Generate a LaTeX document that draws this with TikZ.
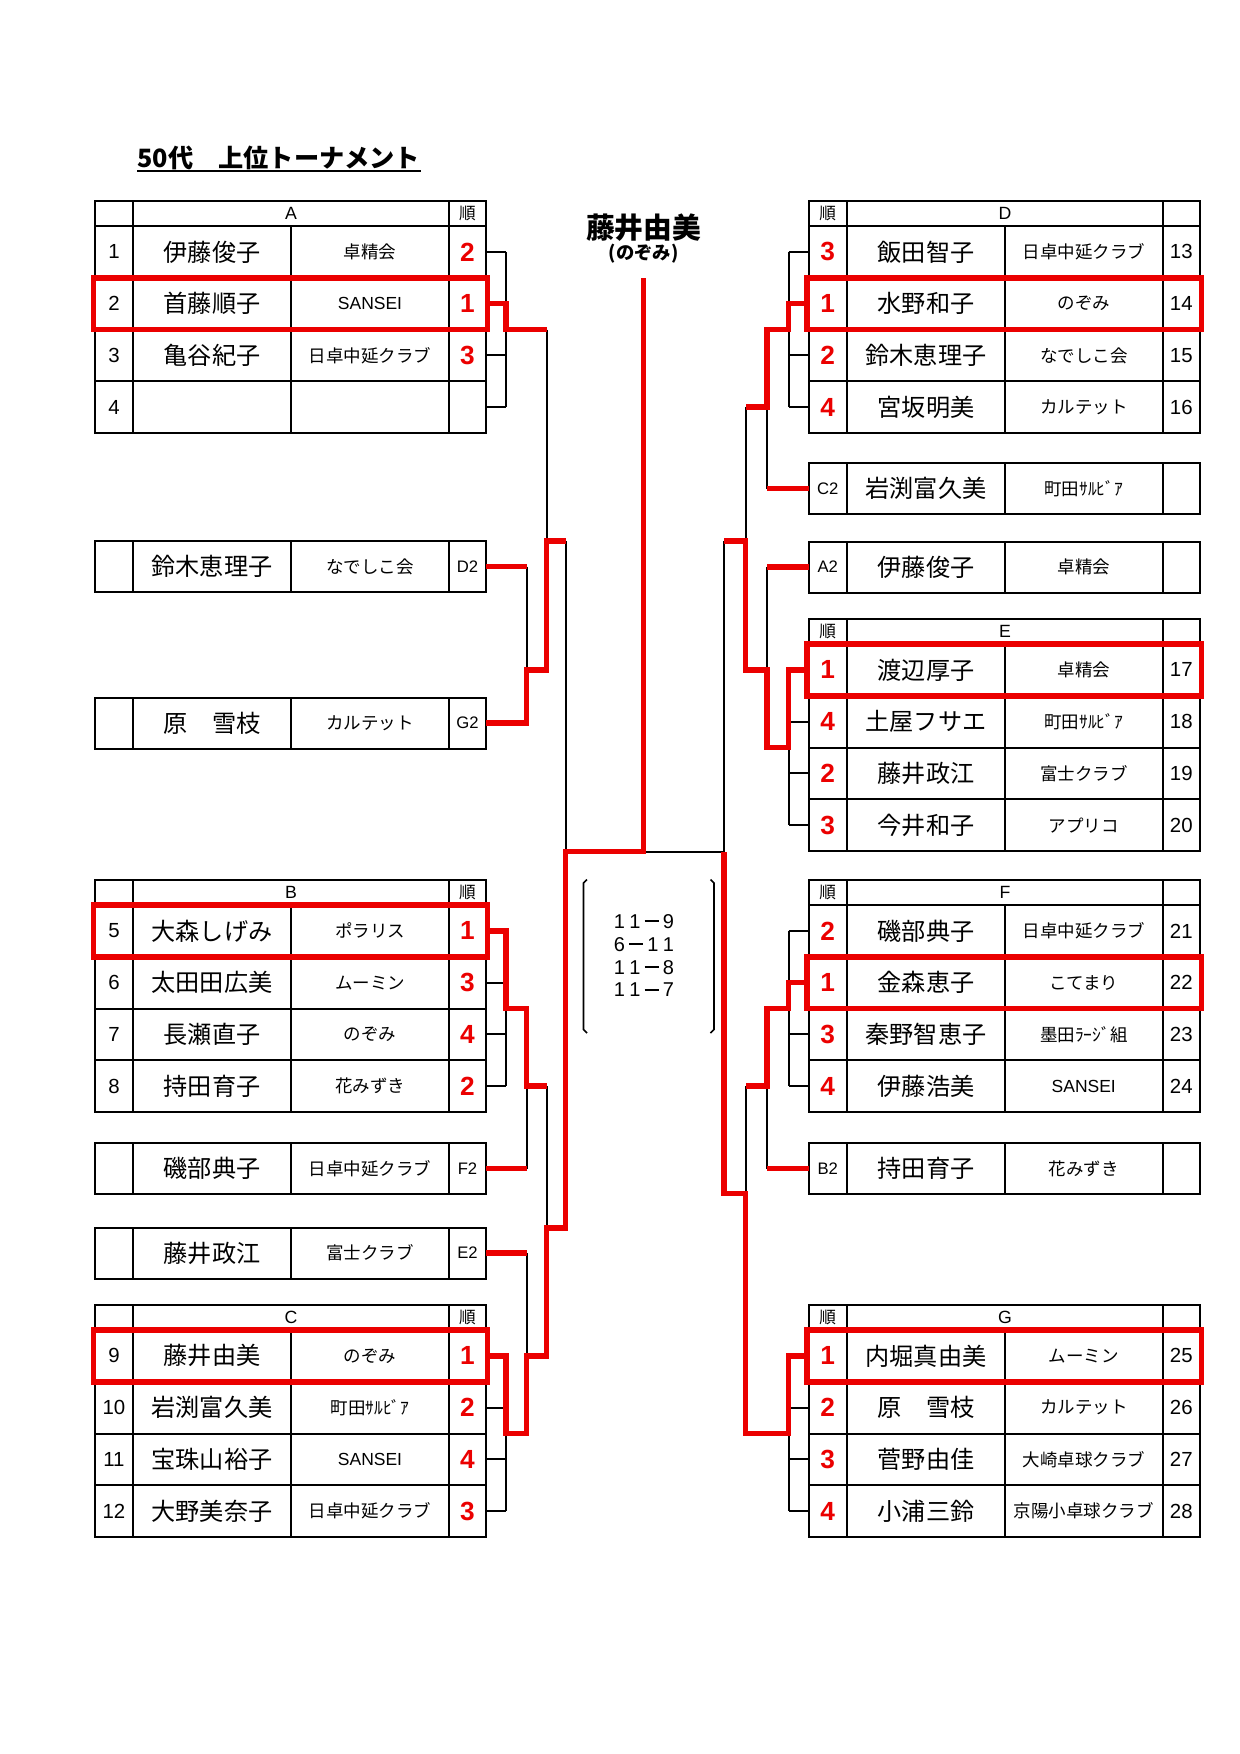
\documentclass[tikz,border=0pt]{standalone}
\usepackage{fontspec}
\setmainfont{Liberation Sans}
\newfontfamily\jp{Noto Sans CJK JP}
\definecolor{wr}{RGB}{235,0,0}
\newcommand\fsz[1]{\fontsize{#1}{#1}\selectfont}
\newcommand\lat[1]{{\rmfamily #1}}
\newcommand\scch[1]{\makebox[7.44pt][c]{#1}}
\newcommand\scdash{\makebox[8.6pt][c]{\rule[3pt]{6.9pt}{0.9pt}}}
\tikzset{
 tbl/.style={draw=black, line width=0.96pt},
 blk/.style={draw=black, line width=0.96pt},
 redp/.style={draw=wr, line width=2.64pt, line join=miter},
 redbox/.style={draw=wr, line width=2.64pt},
 txt/.style={inner sep=0pt, anchor=center},
 nmtxt/.style={txt, font=\jp\fsz{11.6pt}},
 cltxt/.style={txt, font=\jp\fsz{8.4pt}},
 numtxt/.style={txt, font=\rmfamily\fsz{9.8pt}},
 rktxt/.style={txt, font=\rmfamily\bfseries\fsz{12.6pt}, text=wr},
 hdrtxt/.style={txt, font=\rmfamily\fsz{8.5pt}},
 juntxt/.style={txt, font=\jp\fsz{8pt}},
 codetxt/.style={txt, font=\rmfamily\fsz{8pt}},
 scoretxt/.style={txt, font=\rmfamily\fsz{9.6pt}},
}
% left group: #1 top, #2 letter, #3 list num/name/club/rank
\newcommand\LGroup[3]{%
 \pgfmathsetmacro\Ta{#1+25}%
 \pgfmathsetmacro\Tb{#1+25+4*51.75}%
 \draw[tbl] (95,#1) rectangle (486,\Tb);
 \draw[tbl] (95,\Ta) -- (486,\Ta);
 \foreach \k in {1,2,3} {\draw[tbl] (95,{\Ta+\k*51.75}) -- (486,{\Ta+\k*51.75});}
 \draw[tbl] (133,#1) -- (133,\Tb) (449,#1) -- (449,\Tb) (291,\Ta) -- (291,\Tb);
 \node[hdrtxt] (#2hdr) at (291,{#1+12.5}) {#2};
 \node[juntxt] (#2jun) at (467.5,{#1+12.5}) {順};
 \foreach \gn/\gnm/\gcl/\grk [count=\i] in {#3} {
   \pgfmathsetmacro\yc{\Ta+(\i-0.5)*51.75}
   \node[numtxt] (#2\i num) at (114,\yc) {\gn};
   \node[nmtxt] (#2\i nm) at (212,\yc) {\gnm};
   \node[cltxt] (#2\i cl) at (370,\yc) {\gcl};
   \node[rktxt] (#2\i rk) at (467.5,\yc) {\grk};
 }
}
% right group: #1 top, #2 letter, #3 list rank/name/club/seed
\newcommand\RGroup[3]{%
 \pgfmathsetmacro\Ta{#1+25}%
 \pgfmathsetmacro\Tb{#1+25+4*51.75}%
 \draw[tbl] (808.5,#1) rectangle (1200,\Tb);
 \draw[tbl] (808.5,\Ta) -- (1200,\Ta);
 \foreach \k in {1,2,3} {\draw[tbl] (808.5,{\Ta+\k*51.75}) -- (1200,{\Ta+\k*51.75});}
 \draw[tbl] (847,#1) -- (847,\Tb) (1162.5,#1) -- (1162.5,\Tb) (1005,\Ta) -- (1005,\Tb);
 \node[juntxt] (#2jun) at (827.75,{#1+12.5}) {順};
 \node[hdrtxt] (#2hdr) at (1005,{#1+12.5}) {#2};
 \foreach \grk/\gnm/\gcl/\gn [count=\i] in {#3} {
   \pgfmathsetmacro\yc{\Ta+(\i-0.5)*51.75}
   \node[rktxt] (#2\i rk) at (827.75,\yc) {\grk};
   \node[nmtxt] (#2\i nm) at (926,\yc) {\gnm};
   \node[cltxt] (#2\i cl) at (1083.75,\yc) {\gcl};
   \node[numtxt] (#2\i num) at (1181.25,\yc) {\gn};
 }
}
% single rows
\newcommand\LSingle[5]{% #1 top, #2 id, #3 name, #4 club, #5 code
 \pgfmathsetmacro\Tb{#1+51}%
 \pgfmathsetmacro\yc{#1+25.5}%
 \draw[tbl] (95,#1) rectangle (486,\Tb);
 \draw[tbl] (133,#1) -- (133,\Tb) (291,#1) -- (291,\Tb) (449,#1) -- (449,\Tb);
 \node[nmtxt] (#2nm) at (212,\yc) {#3};
 \node[cltxt] (#2cl) at (370,\yc) {#4};
 \node[codetxt] (#2code) at (467.5,\yc) {#5};
}
\newcommand\RSingle[5]{% #1 top, #2 id, #3 code, #4 name, #5 club
 \pgfmathsetmacro\Tb{#1+51}%
 \pgfmathsetmacro\yc{#1+25.5}%
 \draw[tbl] (808.5,#1) rectangle (1200,\Tb);
 \draw[tbl] (847,#1) -- (847,\Tb) (1005,#1) -- (1005,\Tb) (1162.5,#1) -- (1162.5,\Tb);
 \node[codetxt] (#2code) at (827.75,\yc) {#3};
 \node[nmtxt] (#2nm) at (926,\yc) {#4};
 \node[cltxt] (#2cl) at (1083.75,\yc) {#5};
}
\begin{document}
\begin{tikzpicture}[x=0.48pt,y=-0.48pt]
\useasboundingbox[fill=white] (0,0) rectangle (1240,1754);

% title
\node[anchor=base west, inner sep=0pt, font=\jp\bfseries\fsz{12.1pt}] (title) at (137,167) {50代　上位トーナメント};
\draw[line width=0.96pt] ([yshift=-1.9pt]title.base west) -- ([yshift=-1.9pt]title.base east);

% winner label
\node[txt, font=\jp\bfseries\fsz{13.8pt}] (win) at (643.5,228) {藤井由美};
\node[txt, font=\jp\bfseries\fsz{8.8pt}] (winclub) at (643.5,254) {(のぞみ)};
\coordinate (wintop) at (643.5,278);

% ---------- black bracket lines (left) ----------
\foreach \y in {251.875,303.625,355.375,407.125} {\draw[blk] (486,\y) -- (506,\y);}
\draw[blk] (506,251.875) -- (506,407.125);
\draw[blk] (546.5,329.5) -- (546.5,670);
\draw[blk] (526.5,566.5) -- (526.5,723);
\draw[blk] (565.5,541) -- (565.5,851.7);
\draw[blk] (643.5,851.7) -- (724,851.7);
\foreach \y in {930.875,982.625,1034.375,1086.125} {\draw[blk] (486,\y) -- (506,\y);}
\draw[blk] (506,930.875) -- (506,1086.125);
\draw[blk] (526.5,1008.5) -- (526.5,1168.5);
\draw[blk] (546.5,1086.125) -- (546.5,1228);
\draw[blk] (526.5,1253) -- (526.5,1355.875);
\foreach \y in {1355.875,1407.625,1459.375,1511.125} {\draw[blk] (486,\y) -- (506,\y);}
\draw[blk] (506,1355.875) -- (506,1511.125);

% ---------- black bracket lines (right) ----------
\foreach \y in {251.875,303.625,355.375,407.125} {\draw[blk] (788.5,\y) -- (808.5,\y);}
\draw[blk] (788.5,251.875) -- (788.5,407.125);
\draw[blk] (767,329.5) -- (767,488.5);
\draw[blk] (745.5,407.125) -- (745.5,541);
\draw[blk] (767,567) -- (767,669.875);
\foreach \y in {669.875,721.625,773.375,825.125} {\draw[blk] (788.5,\y) -- (808.5,\y);}
\draw[blk] (788.5,669.875) -- (788.5,825.125);
\draw[blk] (724,541) -- (724,851.7);
\foreach \y in {930.875,982.625,1034.375,1086.125} {\draw[blk] (788.5,\y) -- (808.5,\y);}
\draw[blk] (788.5,930.875) -- (788.5,1086.125);
\draw[blk] (767,1086.125) -- (767,1168.5);
\draw[blk] (745.5,1086.125) -- (745.5,1193.3);
\foreach \y in {1355.875,1407.625,1459.375,1511.125} {\draw[blk] (788.5,\y) -- (808.5,\y);}
\draw[blk] (788.5,1355.875) -- (788.5,1511.125);

% ---------- tables ----------
\LGroup{201}{A}{1/伊藤俊子/卓精会/2, 2/首藤順子/\lat{SANSEI}/1, 3/亀谷紀子/日卓中延クラブ/3, 4/{}/{}/{}}
\LSingle{541}{D2}{鈴木恵理子}{なでしこ会}{D2}
\LSingle{697.5}{G2}{原　雪枝}{カルテット}{G2}
\LGroup{880}{B}{5/大森しげみ/ポラリス/1, 6/太田田広美/ムーミン/3, 7/長瀬直子/のぞみ/4, 8/持田育子/花みずき/2}
\LSingle{1143}{F2}{磯部典子}{日卓中延クラブ}{F2}
\LSingle{1227.5}{E2}{藤井政江}{富士クラブ}{E2}
\LGroup{1305}{C}{9/藤井由美/のぞみ/1, 10/岩渕富久美/町田ｻﾙﾋﾞｱ/2, 11/宝珠山裕子/\lat{SANSEI}/4, 12/大野美奈子/日卓中延クラブ/3}

\RGroup{201}{D}{3/飯田智子/日卓中延クラブ/13, 1/水野和子/のぞみ/14, 2/鈴木恵理子/なでしこ会/15, 4/宮坂明美/カルテット/16}
\RSingle{463}{C2}{C2}{岩渕富久美}{町田ｻﾙﾋﾞｱ}
\RSingle{541.5}{A2}{A2}{伊藤俊子}{卓精会}
\RGroup{619}{E}{1/渡辺厚子/卓精会/17, 4/土屋フサエ/町田ｻﾙﾋﾞｱ/18, 2/藤井政江/富士クラブ/19, 3/今井和子/アプリコ/20}
\RGroup{880}{F}{2/磯部典子/日卓中延クラブ/21, 1/金森恵子/こてまり/22, 3/秦野智恵子/墨田ﾗｰｼﾞ組/23, 4/伊藤浩美/\lat{SANSEI}/24}
\RSingle{1143}{B2}{B2}{持田育子}{花みずき}
\RGroup{1305}{G}{1/内堀真由美/ムーミン/25, 2/原　雪枝/カルテット/26, 3/菅野由佳/大崎卓球クラブ/27, 4/小浦三鈴/京陽小卓球クラブ/28}

% ---------- red winner boxes ----------
\draw[redbox] (93.5,277.75) rectangle (487.5,329.5);
\draw[redbox] (93.5,905) rectangle (487.5,956.75);
\draw[redbox] (93.5,1330) rectangle (487.5,1381.75);
\draw[redbox] (807,277.75) rectangle (1201.5,329.5);
\draw[redbox] (807,644) rectangle (1201.5,695.75);
\draw[redbox] (807,956.75) rectangle (1201.5,1008.5);
\draw[redbox] (807,1330) rectangle (1201.5,1381.75);

% ---------- red paths (left) ----------
\draw[redp] (487.5,303.625) -- (506,303.625) -- (506,329.5) -- (546.5,329.5);
\draw[redp] (486,566.5) -- (526.5,566.5);
\draw[redp] (486,723) -- (526.5,723) -- (526.5,670) -- (546.5,670) -- (546.5,541) -- (565.5,541);
\draw[redp] (487.5,930.875) -- (506,930.875) -- (506,1008.5) -- (526.5,1008.5) -- (526.5,1086.125) -- (546.5,1086.125);
\draw[redp] (486,1168.5) -- (526.5,1168.5);
\draw[redp] (486,1253) -- (526.5,1253);
\draw[redp] (487.5,1355.875) -- (506,1355.875) -- (506,1433.5) -- (526.5,1433.5) -- (526.5,1355.875) -- (546.5,1355.875) -- (546.5,1228) -- (565.5,1228) -- (565.5,851.7) -- (643.5,851.7) -- (wintop);

% ---------- red paths (right) ----------
\draw[redp] (807,303.625) -- (788.5,303.625) -- (788.5,329.5) -- (767,329.5) -- (767,407.125) -- (745.5,407.125);
\draw[redp] (808.5,488.5) -- (767,488.5);
\draw[redp] (808.5,567) -- (767,567);
\draw[redp] (807,669.875) -- (788.5,669.875) -- (788.5,747.5) -- (767,747.5) -- (767,669.875) -- (745.5,669.875) -- (745.5,541) -- (724,541);
\draw[redp] (807,982.625) -- (788.5,982.625) -- (788.5,1008.5) -- (767,1008.5) -- (767,1086.125) -- (745.5,1086.125);
\draw[redp] (808.5,1168.5) -- (767,1168.5);
\draw[redp] (807,1355.875) -- (788.5,1355.875) -- (788.5,1433.5) -- (745.5,1433.5) -- (745.5,1193.3) -- (724,1193.3) -- (724,851.7);

% ---------- score ----------
\draw[line width=0.8pt] (587,879.5) -- (583.5,883) -- (583.5,1029.5) -- (587,1033);
\draw[line width=0.8pt] (710.5,879.5) -- (714,883) -- (714,1029.5) -- (710.5,1033);
\node[scoretxt] (s1) at (644,921.7) {\scch{1}\scch{1}\scdash\scch{9}};
\node[scoretxt] (s2) at (644,944.3) {\scch{6}\scdash\scch{1}\scch{1}};
\node[scoretxt] (s3) at (644,967.7) {\scch{1}\scch{1}\scdash\scch{8}};
\node[scoretxt] (s4) at (644,990) {\scch{1}\scch{1}\scdash\scch{7}};
\end{tikzpicture}
\end{document}
